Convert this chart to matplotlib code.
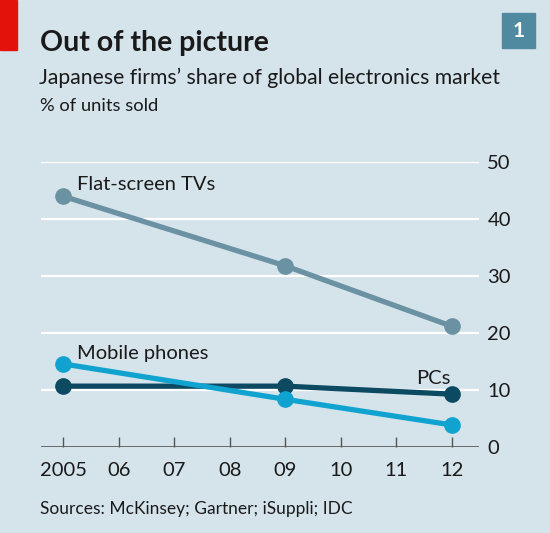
import matplotlib
matplotlib.use("Agg")
from matplotlib import pyplot as plt
from matplotlib.patches import Rectangle

plt.rcParams['font.family'] = ['Lato', 'DejaVu Sans']

# ----------
# Data

years = [2005, 2009, 2012]
tvs = [44.0, 31.8, 21.2]
phones = [14.6, 8.4, 3.9]
pcs = [10.7, 10.7, 9.3]
xticks = [2005, 2006, 2007, 2008, 2009, 2010, 2011, 2012]
xlabels = ['2005', '06', '07', '08', '09', '10', '11', '12']
yticks = [0, 10, 20, 30, 40, 50]

bg = '#d5e3eb'

fig = plt.figure(figsize=(5.5, 5.33), dpi=100)
fig.patch.set_facecolor(bg)
ax = fig.add_axes([0.0745, 0.161, 0.7965, 0.535])
ax.set_facecolor(bg)

ax.set_xlim(2004.6, 2012.49)
ax.set_ylim(0, 50)

for y in yticks[1:]:
    ax.axhline(y, color='white', lw=1.6, zorder=1)
ax.axhline(0, color='#555555', lw=1.2, zorder=2)

ax.plot(years, tvs, color='#6a92a3', lw=3.8, marker='o', ms=11, clip_on=False, zorder=3)
ax.plot(years, pcs, color='#0c4a61', lw=3.8, marker='o', ms=11, clip_on=False, zorder=4)
ax.plot(years, phones, color='#10a3d0', lw=3.8, marker='o', ms=11, clip_on=False, zorder=5)

ax.text(2005.25, 44.6, 'Flat-screen TVs', fontsize=14.5, color='#1a1a1a', va='bottom')
ax.text(2005.25, 15.0, 'Mobile phones', fontsize=14.5, color='#1a1a1a', va='bottom')
ax.text(2011.35, 10.6, 'PCs', fontsize=14.5, color='#1a1a1a', va='bottom')

for s in ax.spines.values():
    s.set_visible(False)

ax.yaxis.tick_right()
ax.set_yticks(yticks)
ax.set_yticklabels([str(v) for v in yticks], fontsize=14.5, color='#1a1a1a')
ax.tick_params(axis='y', length=0, pad=6)

ax.set_xticks(xticks)
ax.set_xticklabels(xlabels, fontsize=14.5, color='#1a1a1a')
ax.tick_params(axis='x', direction='in', length=7, width=1, color='#555555', pad=11)

# ----------
# Header and footer

fig.patches.append(Rectangle((0, 1 - 50 / 533), 17 / 550, 50 / 533, transform=fig.transFigure,
                             color='#e3120b', zorder=0))
fig.patches.append(Rectangle((502 / 550, 1 - 48 / 533), 33 / 550, 35 / 533, transform=fig.transFigure,
                             color='#4f8aa0', zorder=0))
fig.text(518.5 / 550, 1 - 31 / 533, '1', color='white', fontsize=15, fontweight='bold',
         ha='center', va='center')

fig.text(40 / 550, 1 - 43 / 533, 'Out of the picture', fontsize=20.5, fontweight='bold',
         color='#1a1a1a', va='center')
fig.text(39 / 550, 1 - 78 / 533, 'Japanese firms\u2019 share of global electronics market',
         fontsize=15.2, color='#1a1a1a', va='center')
fig.text(40 / 550, 1 - 106 / 533, '% of units sold', fontsize=13.2, color='#1a1a1a', va='center')
fig.text(40 / 550, 1 - 509 / 533, 'Sources: McKinsey; Gartner; iSuppli; IDC', fontsize=12.5,
         color='#1a1a1a', va='center')

fig.savefig('out.png', dpi=100, facecolor=bg)
